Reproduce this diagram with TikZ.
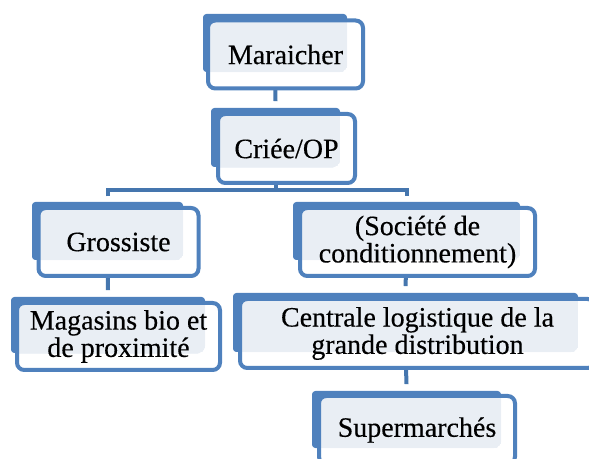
\documentclass[tikz,border=0pt]{standalone}
\usepackage{fontspec}
\setmainfont{Liberation Serif}[FakeBold=0.35]
\usetikzlibrary{patterns.meta}
\definecolor{boxblue}{HTML}{4F81BD}
\definecolor{linkblue}{HTML}{4576AE}
\definecolor{stipple}{HTML}{A3B7D3}
\tikzset{
  sz/.style 2 args={minimum width=#1*0.75pt, minimum height=#2*0.75pt},
  backbox/.style={draw=none, fill=boxblue, rounded corners=2.5pt, inner sep=0pt},
  frontbox/.style={draw=boxblue, line width=3pt, fill=white, rounded corners=5.5pt,
    inner sep=0pt, align=center, font=\fontsize{21}{20.5}\selectfont,
    path picture={\fill[pattern={Dots[distance=1.5pt, radius=0.4pt]}, pattern color=stipple]
      (#1.north west) rectangle (#1.south east);}},
  link/.style={draw=linkblue, line width=3pt},
}
\begin{document}
\begin{tikzpicture}[x=0.75pt, y=-0.75pt]
\useasboundingbox (0,0) rectangle (589,459);

% back plates
\node[backbox, sz={144}{58}] (marb) at (275,43) {};
\node[backbox, sz={129}{59}] (crib) at (275.5,137.5) {};
\node[backbox, sz={151}{58}] (grob) at (107.5,231) {};
\node[backbox, sz={194}{56}] (magb) at (108,325) {};
\node[backbox, sz={227}{58}] (socb) at (406.5,231) {};
\node[backbox, sz={345}{59}] (cenb) at (405.5,322.5) {};
\node[backbox, sz={189}{57}] (supb) at (406.5,419.5) {};

% connectors
\coordinate (bar) at (275.5,190);
\draw[link] (marb.south) -- ([yshift=5pt]crib.north);
\draw[link] (crib.south) -- (bar);
\draw[link] ([yshift=4pt]grob.north) |- (bar) -| ([yshift=4pt]socb.north);
\draw[link] (grob.south) -- ([yshift=5pt]magb.north);
\draw[link] (socb.south) -- ([yshift=5pt]cenb.north);
\draw[link] (cenb.south) -- ([yshift=5pt]supb.north);

% front panels
\node[frontbox=marb, sz={155}{68}] (mar) at (285.5,54.5) {Maraicher};
\node[frontbox=crib, sz={137}{69}] (cri) at (286.5,148.5) {Criée/OP};
\node[frontbox=grob, sz={160}{68}] (gro) at (118.5,242) {Grossiste};
\node[frontbox=magb, sz={203}{67}] (mag) at (118.5,336.5) {Magasins bio et\\de proximité};
\node[frontbox=socb, sz={235}{68}] (soc) at (417.5,242) {(Société de\\conditionnement)};
\node[frontbox=cenb, sz={355}{69}] (cen) at (417.5,333.5) {Centrale logistique de la\\grande distribution};
\node[frontbox=supb, sz={196}{68}] (sup) at (417,430) {Supermarchés};
\end{tikzpicture}
\end{document}
